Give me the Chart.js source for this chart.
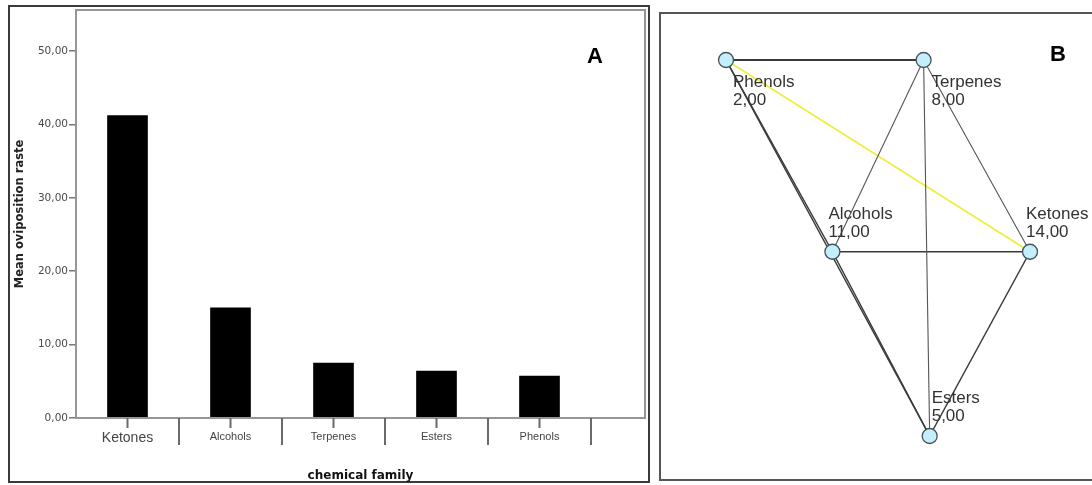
<!DOCTYPE html>
<html>
<head>
<meta charset="utf-8">
<script src="https://cdn.jsdelivr.net/npm/chart.js@4.4.1/dist/chart.umd.min.js"></script>
<style>
  html, body { margin: 0; padding: 0; background: #fff; }
  body { width: 1092px; height: 485px; position: relative; overflow: hidden; font-family: "Liberation Sans", Arial, sans-serif; }
  .frame { position: absolute; box-sizing: border-box; }
  #frameA { left: 8px; top: 5px; width: 642px; height: 478px; border: 2px solid #3a3a3a; }
  #frameB { left: 659px; top: 12px; width: 460px; height: 469px; border: 2px solid #555; }
  #chartA { position: absolute; left: 0; top: 0; }
  #chartB { position: absolute; left: 650px; top: 0; }
  .tag { position: absolute; font-weight: bold; font-size: 22px; line-height: 22px; color: #000; }
</style>
</head>
<body>
<div class="frame" id="frameA"></div>
<div class="frame" id="frameB"></div>
<canvas id="chartA" width="650" height="485"></canvas>
<canvas id="chartB" width="442" height="485"></canvas>
<div class="tag" style="left:587px; top:45px;">A</div>
<div class="tag" style="left:1050px; top:43px;">B</div>
<script>
// panel A - mean oviposition rate by chemical family
var families = ['Ketones', 'Alcohols', 'Terpenes', 'Esters', 'Phenols'];
var meanRate = [41.2, 15.0, 7.5, 6.4, 5.7];
var rateTicks = [0, 10, 20, 30, 40, 50];
var rateMax = 55.6;

// panel B - network of families
var nodeNames = ['Phenols', 'Terpenes', 'Alcohols', 'Ketones', 'Esters'];
var nodeValues = [2, 8, 11, 14, 5];
var nodeX = [0, 0.65, 0.35, 1, 0.67];
var nodeY = [1, 1, 0.49, 0.49, 0];
var edges = [[0, 1], [0, 2], [0, 4], [1, 2], [1, 4], [1, 3], [2, 3], [2, 4], [3, 4], [0, 3]];

// label placement for panel B (pixels from the node)
var labelOffsets = [[7, 27], [8, 27], [-4, -33], [-4, -33], [2, -33]];

Chart.defaults.font.family = '"Liberation Sans", Arial, sans-serif';
Chart.defaults.animation = false;

var titleFont = '"DejaVu Sans", Verdana, sans-serif';

function comma(v) {
    return v.toFixed(2).replace('.', ',');
}

// frame, category ticks and x title of panel A
var frameA = {
    id: 'frameA',
    afterDraw: function(chart) {
        var ctx = chart.ctx, a = chart.chartArea, x = chart.scales.x;
        var right = a.right + 54;
        var half = (x.getPixelForValue(1) - x.getPixelForValue(0)) / 2;
        ctx.save();
        ctx.strokeStyle = '#969696';
        ctx.lineWidth = 2;
        ctx.strokeRect(a.left, a.top, right - a.left, a.bottom - a.top);
        ctx.strokeStyle = '#6a6a6a';
        families.forEach(function(f, i) {
            var c = x.getPixelForValue(i);
            ctx.beginPath();
            ctx.moveTo(c, a.bottom);
            ctx.lineTo(c, a.bottom + 10);
            ctx.moveTo(c + half, a.bottom);
            ctx.lineTo(c + half, a.bottom + 27);
            ctx.stroke();
        });
        ctx.fillStyle = '#111';
        ctx.font = 'bold 12px ' + titleFont;
        ctx.textAlign = 'center';
        ctx.textBaseline = 'middle';
        ctx.fillText('chemical family', (a.left + right) / 2, 476);
        ctx.restore();
    }
};

var barChart = new Chart('chartA', {
    type: 'bar',
    data: {
        labels: families,
        datasets: [{
            data: meanRate,
            backgroundColor: '#000',
            borderWidth: 0,
            barThickness: 40
        }]
    },
    options: {
        responsive: false,
        layout: { padding: { left: 0, top: 10, right: 59, bottom: 0 } },
        plugins: { legend: { display: false }, tooltip: { enabled: false } },
        scales: {
            x: {
                grid: { display: false, drawTicks: false },
                border: { display: false },
                ticks: {
                    color: '#444',
                    padding: 12,
                    font: function(c) { return { size: c.index === 0 ? 14 : 11 }; }
                },
                afterFit: function(scale) { scale.height = 67; }
            },
            y: {
                min: 0,
                max: rateMax,
                border: { display: false },
                grid: { drawOnChartArea: false, tickLength: 7, color: '#777', lineWidth: 1.5 },
                ticks: {
                    color: '#4a4a4a',
                    padding: 1,
                    font: { size: 10.5, family: titleFont },
                    callback: function(v) { return comma(v); }
                },
                afterBuildTicks: function(scale) {
                    scale.ticks = rateTicks.map(function(v) { return { value: v }; });
                },
                afterFit: function(scale) { scale.width = 76; },
                title: {
                    display: true,
                    text: 'Mean oviposition raste',
                    color: '#222',
                    font: { size: 11.5, weight: 'bold', family: titleFont },
                    padding: { top: 13, bottom: 0 }
                }
            }
        }
    },
    plugins: [frameA]
});

// names and values next to each node
var nodeLabels = {
    id: 'nodeLabels',
    afterDatasetsDraw: function(chart) {
        var ctx = chart.ctx, x = chart.scales.x, y = chart.scales.y;
        ctx.save();
        ctx.font = '17px "Liberation Sans", Arial, sans-serif';
        ctx.fillStyle = '#333';
        ctx.textAlign = 'left';
        ctx.textBaseline = 'alphabetic';
        nodeNames.forEach(function(n, i) {
            var px = x.getPixelForValue(nodeX[i]) + labelOffsets[i][0];
            var py = y.getPixelForValue(nodeY[i]) + labelOffsets[i][1];
            ctx.fillText(n, px, py);
            ctx.fillText(comma(nodeValues[i]), px, py + 18);
        });
        ctx.restore();
    }
};

var nodePoints = nodeNames.map(function(n, i) { return { x: nodeX[i], y: nodeY[i] }; });

var netSets = [{
    type: 'scatter',
    data: nodePoints,
    pointRadius: 7.5,
    pointBackgroundColor: '#c4eefb',
    pointBorderColor: '#44545a',
    pointBorderWidth: 1.3,
    clip: false
}];

edges.forEach(function(e) {
    var yellow = (e[0] === 0 && e[1] === 3);
    var thin = (e[0] === 1 && e[1] !== 0);
    netSets.push({
        type: 'line',
        data: [nodePoints[e[0]], nodePoints[e[1]]],
        borderColor: yellow ? '#f2ec3a' : (thin ? '#555' : '#3a3a3a'),
        borderWidth: yellow ? 1.6 : (thin ? 1.1 : (e[0] === 0 && e[1] === 1 ? 2.2 : 1.5)),
        pointRadius: 0,
        fill: false,
        clip: false
    });
});

var netChart = new Chart('chartB', {
    type: 'scatter',
    data: { datasets: netSets },
    options: {
        responsive: false,
        layout: { padding: { left: 76, right: 62, top: 60, bottom: 49 } },
        plugins: { legend: { display: false }, tooltip: { enabled: false } },
        scales: {
            x: { type: 'linear', min: 0, max: 1, display: false },
            y: { type: 'linear', min: 0, max: 1, display: false }
        }
    },
    plugins: [nodeLabels]
});
</script>
</body>
</html>
